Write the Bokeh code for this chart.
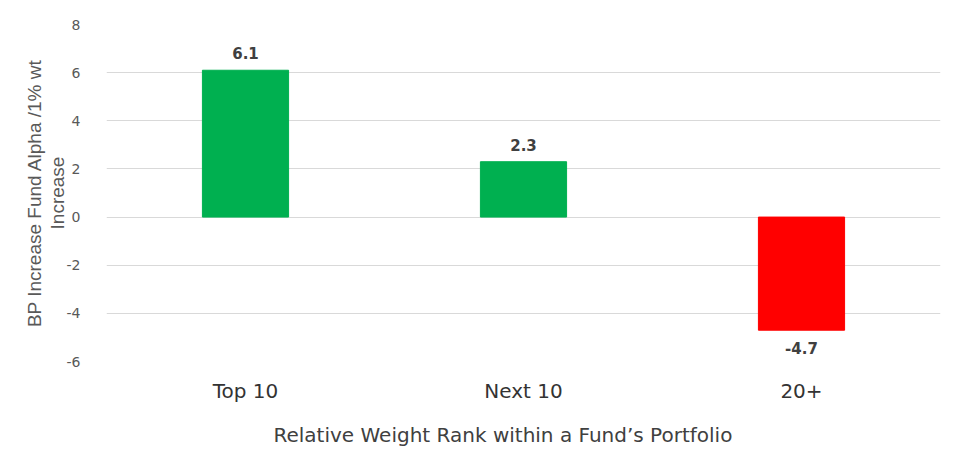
from bokeh.plotting import figure
from bokeh.models import (ColumnDataSource, FactorRange, Range1d, FixedTicker, CDSView,
                          BooleanFilter, PrintfTickFormatter, Title)
from bokeh.core.properties import value
from bokeh.embed import file_html
from bokeh.resources import INLINE

categories = ["Top 10", "Next 10", "20+"]
values = [6.1, 2.3, -4.7]
bar_colors = ["#00B050", "#00B050", "#FF0000"]
y_ticks = [-6, -4, -2, 0, 2, 4, 6, 8]

labels = [f"{v:.1f}" for v in values]
src = ColumnDataSource(dict(cat=categories, val=values, color=bar_colors, label=labels))

p = figure(x_range=FactorRange(*categories), y_range=Range1d(-6, 8),
           width=966, height=462, output_backend="svg", toolbar_location=None,
           min_border_left=106, min_border_right=26, min_border_top=24, min_border_bottom=101)
p.outline_line_color = None
p.background_fill_color = "white"

p.vbar(x="cat", top="val", bottom=0, width=0.31, color="color", source=src)

pos = CDSView(filter=BooleanFilter([v >= 0 for v in values]))
neg = CDSView(filter=BooleanFilter([v < 0 for v in values]))
common = dict(text_align="center", text_font=value("DejaVu Sans"), text_font_size="15px",
              text_font_style="bold", text_color="#404040")
p.text(x="cat", y="val", text="label", source=src, view=pos,
       text_baseline="bottom", y_offset=-11, **common)
p.text(x="cat", y="val", text="label", source=src, view=neg,
       text_baseline="top", y_offset=12, **common)

# Y axis
p.yaxis.ticker = FixedTicker(ticks=y_ticks)
p.yaxis.formatter = PrintfTickFormatter(format="%d")
p.yaxis.axis_line_color = None
p.yaxis.major_tick_line_color = None
p.yaxis.minor_tick_line_color = None
p.yaxis.major_label_text_font = "DejaVu Sans"
p.yaxis.major_label_text_font_size = "14px"
p.yaxis.major_label_text_color = "#595959"
p.yaxis.major_label_standoff = 20
p.yaxis.axis_label = "BP Increase Fund Alpha /1% wt\nIncrease"
p.yaxis.axis_label_text_font = "Liberation Sans"
p.yaxis.axis_label_text_font_size = "19px"
p.yaxis.axis_label_text_font_style = "normal"
p.yaxis.axis_label_text_color = "#595959"
p.yaxis.axis_label_text_line_height = 1.05
p.yaxis.axis_label_standoff = -4

# X axis
p.xaxis.axis_line_color = None
p.xaxis.major_tick_line_color = None
p.xaxis.minor_tick_line_color = None
p.xaxis.major_label_text_font = "DejaVu Sans"
p.xaxis.major_label_text_font_size = "20px"
p.xaxis.major_label_text_color = "#333333"
p.xaxis.major_label_standoff = 11

xt = Title(text="Relative Weight Rank within a Fund\u2019s Portfolio", align="left", offset=167,
           text_font="DejaVu Sans", text_font_size="20px", text_font_style="normal",
           text_color="#404040", standoff=30)
p.add_layout(xt, "below")

p.xgrid.grid_line_color = None
p.ygrid.grid_line_color = "#d9d9d9"
p.ygrid.grid_line_width = 1

open("out.html", "w").write(file_html(p, INLINE))
